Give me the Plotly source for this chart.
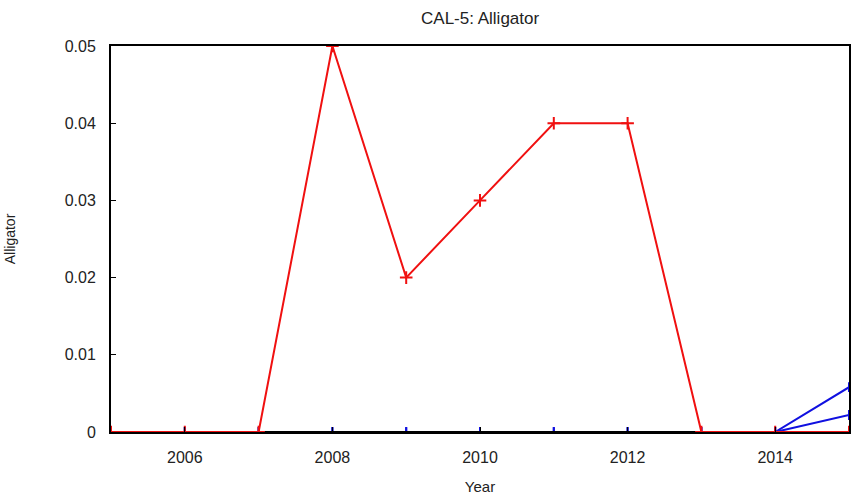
import plotly.graph_objects as go

years = [2005, 2006, 2007, 2008, 2009, 2010, 2011, 2012, 2013, 2014, 2015]
alligator = [0, 0, 0, 0.05, 0.02, 0.03, 0.04, 0.04, 0, 0, 0]
series_b = [0, 0, 0, 0, 0, 0, 0, 0, 0, 0, 0.0058]
series_c = [0, 0, 0, 0, 0, 0, 0, 0, 0, 0, 0.0022]

fig = go.Figure()

for vals in [series_b, series_c]:
    fig.add_trace(go.Scatter(
        x=years, y=vals, mode="lines+markers",
        line=dict(color="#1010e0", width=2),
        marker=dict(symbol="line-ns-open", size=7, color="#1010e0", line=dict(width=2, color="#1010e0")),
        showlegend=False
    ))
# zero baseline drawn in black like the reference
fig.add_trace(go.Scatter(
    x=years, y=[0] * len(years), mode="lines",
    line=dict(color="black", width=2), showlegend=False
))
fig.add_trace(go.Scatter(
    x=years, y=alligator, mode="lines+markers",
    line=dict(color="#f01010", width=2),
    marker=dict(symbol="cross-thin-open", size=9, color="#f01010", line=dict(width=2, color="#f01010")),
    showlegend=False
))

fig.update_layout(
    width=852, height=503,
    margin=dict(l=111, r=1, t=46, b=71),
    plot_bgcolor="white", paper_bgcolor="white",
    font=dict(family="Liberation Sans, Arial, sans-serif", size=16, color="#222"),
    title=dict(text="CAL-5: Alligator", x=0.5635, xanchor="center", y=1 - 18 / 503, yanchor="middle",
               font=dict(size=17, color="#222")),
)
fig.update_xaxes(
    range=[2005, 2015], tickvals=[2006, 2008, 2010, 2012, 2014],
    showgrid=False, zeroline=False, showline=True, linecolor="black", linewidth=2, mirror=True,
    ticks="inside", ticklen=5, tickcolor="black", ticklabelstandoff=10,
    title=dict(text="Year", standoff=16, font=dict(size=15))
)
fig.update_yaxes(
    range=[0, 0.05], tickvals=[0, 0.01, 0.02, 0.03, 0.04, 0.05],
    ticktext=["0", "0.01", "0.02", "0.03", "0.04", "0.05"],
    showgrid=False, zeroline=False, showline=True, linecolor="black", linewidth=2, mirror=True,
    ticks="inside", ticklen=5, tickcolor="black", ticklabelstandoff=10,
    title=dict(text="Alligator", standoff=46, font=dict(size=14))
)

fig.write_html("out.html", config={"displayModeBar": False},
               post_script="document.body.style.margin='0';document.body.style.overflow='hidden';")
